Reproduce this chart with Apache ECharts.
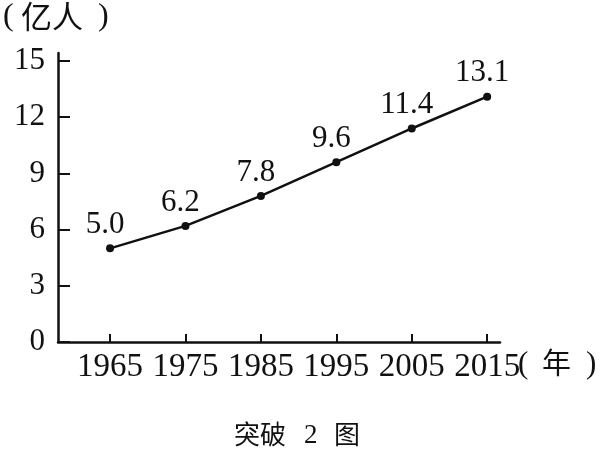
<!DOCTYPE html>
<html><head><meta charset="utf-8">
<script src="https://cdn.jsdelivr.net/npm/echarts@6/dist/echarts.min.js"></script>
<style>html,body{margin:0;padding:0;background:#fff}#c{width:600px;height:456px}</style>
</head><body><div id="c"></div>
<script>
const years = [1965, 1975, 1985, 1995, 2005, 2015];
const population = [5.0, 6.2, 7.8, 9.6, 11.4, 13.1];
const yTicks = [0, 3, 6, 9, 12, 15];
const yUnit = '亿人';
const xUnit = '年';
const captionParts = ['突破', '2', '图'];

const serif = '"Liberation Serif", "DejaVu Serif", serif';
const cjk = '"Noto Sans CJK SC", sans-serif';
const chart = echarts.init(document.getElementById('c'));
chart.setOption({
  animation: false,
  grid: { left: 58, right: 100, top: 53, bottom: 114 },
  xAxis: {
    type: 'value', min: 1958.1, max: 2016.7,
    splitLine: { show: false },
    axisLine: { lineStyle: { color: '#111', width: 2.5 } },
    axisTick: { show: true, inside: true, length: 8, customValues: years, lineStyle: { color: '#111', width: 2 } },
    axisLabel: { customValues: years, color: '#111', fontFamily: serif, fontSize: 33, margin: 9, formatter: v => String(v) }
  },
  yAxis: {
    type: 'value', min: 0, max: 15.43,
    splitLine: { show: false },
    axisLine: { show: true, lineStyle: { color: '#111', width: 2.5 } },
    axisTick: { show: true, inside: true, length: 12, customValues: yTicks, lineStyle: { color: '#111', width: 2 } },
    axisLabel: { customValues: yTicks, color: '#111', fontFamily: serif, fontSize: 31, margin: 13 }
  },
  series: [{
    type: 'line',
    data: years.map((y, i) => [y, population[i]]),
    symbol: 'circle', symbolSize: 8,
    itemStyle: { color: '#111' },
    lineStyle: { color: '#111', width: 2.5 },
    label: { show: true, position: 'top', distance: 4, offset: [-5, 0], color: '#111', fontFamily: serif, fontSize: 31,
      formatter: p => p.value[1].toFixed(1) }
  }],
  graphic: [
    { type: 'text', left: 3, top: 1, style: { text: '(', font: '32px ' + serif, fill: '#111' } },
    { type: 'text', left: 21, top: 1, style: { text: yUnit, font: '31px ' + cjk, fill: '#111' } },
    { type: 'text', left: 98, top: 1, style: { text: ')', font: '32px ' + serif, fill: '#111' } },
    { type: 'text', left: 518, top: 349, style: { text: '(', font: '31px ' + serif, fill: '#111' } },
    { type: 'text', left: 542, top: 348, style: { text: xUnit, font: '29px ' + cjk, fill: '#111' } },
    { type: 'text', left: 586, top: 349, style: { text: ')', font: '31px ' + serif, fill: '#111' } },
    { type: 'text', left: 234, top: 421, style: { text: captionParts[0], font: '26px ' + cjk, fill: '#111' } },
    { type: 'text', left: 304, top: 422, style: { text: captionParts[1], font: '27px ' + serif, fill: '#111' } },
    { type: 'text', left: 334, top: 421, style: { text: captionParts[2], font: '26px ' + cjk, fill: '#111' } }
  ]
});
</script></body></html>
